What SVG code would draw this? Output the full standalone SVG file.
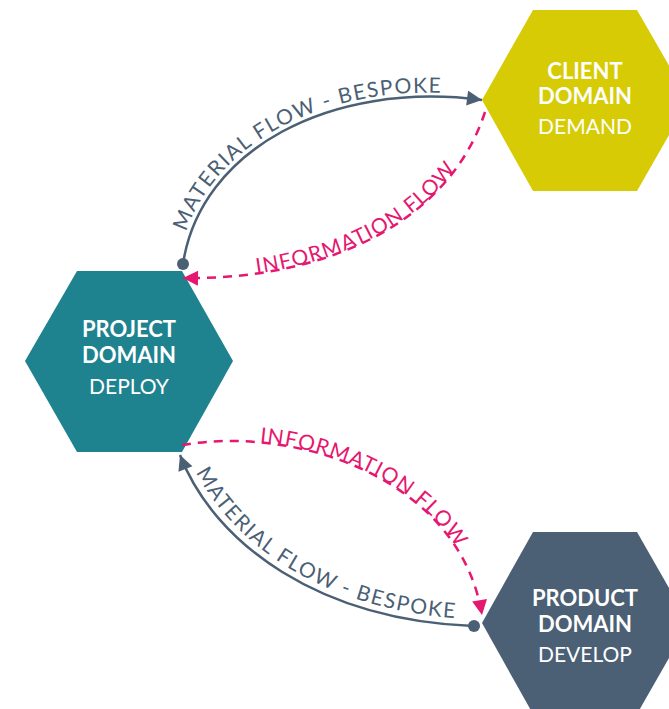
<svg xmlns="http://www.w3.org/2000/svg" width="669" height="709" viewBox="0 0 669 709">
<style>
.lbl{font-family:Lato,"Open Sans","Liberation Sans",sans-serif;fill:#fff;text-anchor:middle;font-size:22px}
.b{font-weight:700}
.l{font-weight:400;font-size:21px}
.mat{fill:none;stroke:#4B5F75;stroke-width:2.5}
.inf{fill:none;stroke:#E5176F;stroke-width:2.5;stroke-dasharray:9 7}
.mt{font-family:Lato,"Open Sans","Liberation Sans",sans-serif;font-size:21px;fill:#4B5F75;letter-spacing:1.5px}
.it{font-family:Lato,"Open Sans","Liberation Sans",sans-serif;font-size:21px;fill:#E5176F;letter-spacing:1.2px}
</style>
<defs>
<marker id="am" viewBox="0 0 10 10" refX="10" refY="5" markerUnits="userSpaceOnUse" markerWidth="17" markerHeight="15" orient="auto"><path d="M0,0L10,5L0,10z" fill="#4B5F75"/></marker>
<marker id="ai" viewBox="0 0 10 10" refX="10" refY="5" markerUnits="userSpaceOnUse" markerWidth="17" markerHeight="15" orient="auto"><path d="M0,0L10,5L0,10z" fill="#E5176F"/></marker>
<path id="tp1" d="M179,261 C196,147 328,76 480,96"/>
<path id="tp2" d="M183,278 C330,280 450,220 485,112"/>
<path id="tp3" d="M182,445 C300,425 460,480 482,615"/>
<path id="tp4" d="M187,452 C221,540 322,613 472,619"/>
</defs>
<g id="client"><polygon points="533,10 637,10 689,100 637,191 533,191 482,100" fill="#D6CB05"/>
<text class="lbl b" x="585" y="79">CLIENT</text><text class="lbl b" x="585" y="104">DOMAIN</text><text class="lbl l" x="585" y="134">DEMAND</text></g>
<g id="project"><polygon points="77,271 182,271 233,361 182,452 77,452 25,361" fill="#1F828F"/>
<text class="lbl b" x="129" y="337">PROJECT</text><text class="lbl b" x="129" y="363">DOMAIN</text><text class="lbl l" x="129" y="394">DEPLOY</text></g>
<g id="product"><polygon points="533,532 637,532 689,623 637,714 533,714 482,623" fill="#4B5F75"/>
<text class="lbl b" x="585" y="606">PRODUCT</text><text class="lbl b" x="585" y="632">DOMAIN</text><text class="lbl l" x="585" y="662">DEVELOP</text></g>
<g id="connectors">
<path class="mat" d="M183,264 C200,150 330,80 482,100" marker-end="url(#am)"/>
<circle cx="183" cy="264" r="6" fill="#4B5F75"/>
<text class="mt"><textPath href="#tp1" startOffset="30">MATERIAL FLOW - BESPOKE</textPath></text>
<path class="inf" d="M485,112 C450,220 330,280 183,278" marker-end="url(#ai)"/>
<text class="it"><textPath href="#tp2" startOffset="74">INFORMATION FLOW</textPath></text>
<path class="inf" d="M182,445 C300,425 460,480 482,615" marker-end="url(#ai)"/>
<text class="it"><textPath href="#tp3" startOffset="78">INFORMATION FLOW</textPath></text>
<path class="mat" d="M473,626 C320,620 215,545 180,455" marker-end="url(#am)"/>
<circle cx="474" cy="626" r="6" fill="#4B5F75"/>
<text class="mt"><textPath href="#tp4" startOffset="22">MATERIAL FLOW - BESPOKE</textPath></text>
</g>
</svg>
